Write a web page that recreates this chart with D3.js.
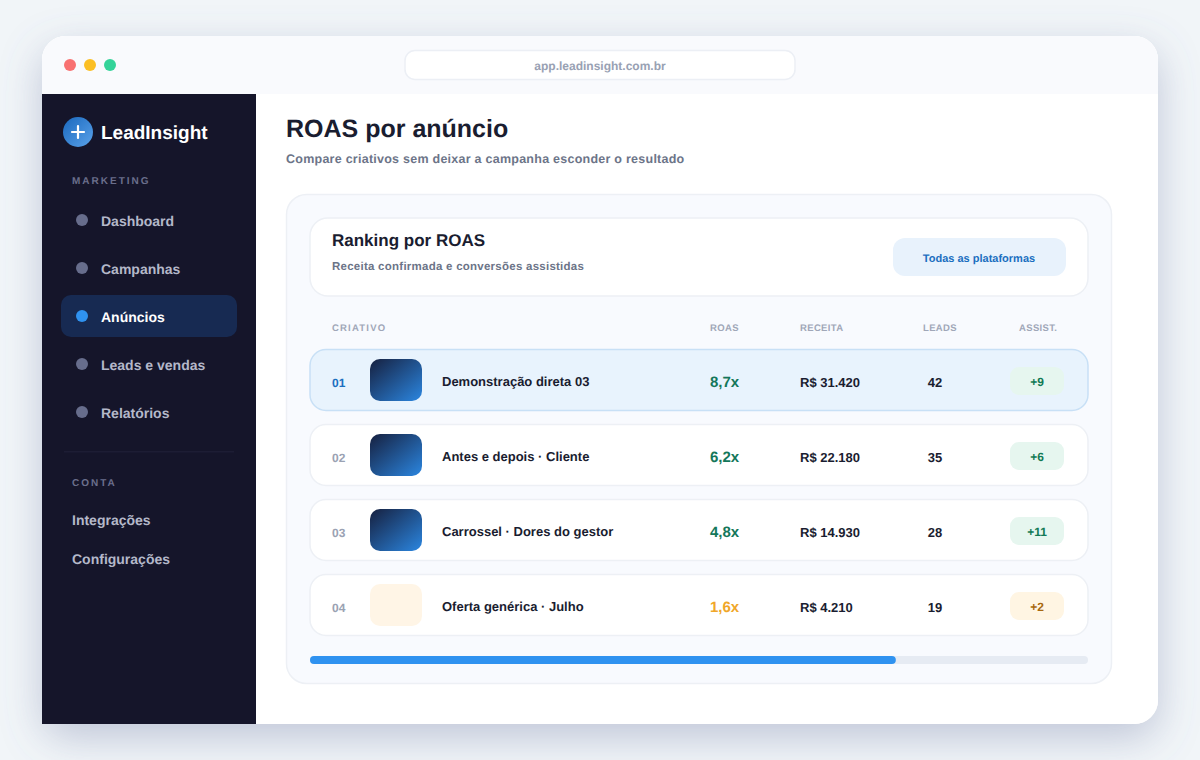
<![CDATA[<!DOCTYPE html>
<html lang="pt-BR"><head><meta charset="utf-8">
<script src="https://cdn.jsdelivr.net/npm/d3@7/dist/d3.min.js"></script>
<style>html,body{margin:0;padding:0;background:#f1f5f8;overflow:hidden}svg{display:block}text{font-family:"Liberation Sans",Arial,sans-serif;font-weight:700;text-rendering:geometricPrecision}</style>
</head><body><svg id="c" width="1200" height="760" viewBox="0 0 1200 760"></svg>
<script>
const navItems=["Dashboard","Campanhas","Anúncios","Leads e vendas","Relatórios"];
const activeNav="Anúncios";
const accountItems=["Integrações","Configurações"];
const ranks=["01","02","03","04"];
const creatives=["Demonstração direta 03","Antes e depois · Cliente","Carrossel · Dores do gestor","Oferta genérica · Julho"];
const roasValues=[8.7,6.2,4.8,1.6];
const revenueValues=[31420,22180,14930,4210];
const leadValues=[42,35,28,19];
const assistValues=[9,6,11,2];
const columnHeads=["CRIATIVO","ROAS","RECEITA","LEADS","ASSIST."];
const progressShare=0.753;

const svg=d3.select("#c");
const defs=svg.append("defs");
const sh=defs.append("filter").attr("id","sh").attr("filterUnits","userSpaceOnUse").attr("x",0).attr("y",0).attr("width",1200).attr("height",760);
sh.append("feDropShadow").attr("dx",0).attr("dy",14).attr("stdDeviation",20).attr("flood-color","#6a72a0").attr("flood-opacity",0.36);
function grad(id,a,b){const g=defs.append("linearGradient").attr("id",id).attr("x1",0).attr("y1",0).attr("x2",1).attr("y2",1);
 g.append("stop").attr("offset",0).attr("stop-color",a);g.append("stop").attr("offset",1).attr("stop-color",b);}
grad("thumb","#16203f","#2b86e0");grad("logo","#1a68bd","#5aa2ea");
const clip=defs.append("clipPath").attr("id","win");clip.append("rect").attr("x",42).attr("y",36).attr("width",1116).attr("height",688).attr("rx",24);

function rr(p,x,y,w,h,r,fill,stroke){const e=p.append("rect").attr("x",x).attr("y",y).attr("width",w).attr("height",h).attr("rx",r).attr("fill",fill);
 if(stroke)e.attr("stroke",stroke).attr("stroke-width",1.5);return e;}
function tx(p,x,y,s,size,fill,o={}){return p.append("text").attr("x",x).attr("y",y).attr("font-size",size).attr("fill",fill)
 .attr("text-anchor",o.a||"start").attr("letter-spacing",o.ls||0).text(s);}

rr(svg,42,36,1116,688,24,"#fff").attr("filter","url(#sh)");
const win=svg.append("g").attr("clip-path","url(#win)");
win.append("rect").attr("x",42).attr("y",36).attr("width",1116).attr("height",688).attr("fill","#fff");
win.append("rect").attr("x",42).attr("y",36).attr("width",1116).attr("height",58).attr("fill","#f9fafd");
win.selectAll("circle.dot").data(["#f87171","#fbbf24","#34d399"]).join("circle").attr("class","dot")
 .attr("cx",(d,i)=>70+20*i).attr("cy",65).attr("r",6).attr("fill",d=>d);
rr(win,405,50.5,390,29,10,"#fff","#eceff5");
tx(win,600,70,"app.leadinsight.com.br",12,"#98a1b3",{a:"middle"});

// sidebar (square bottom-left corner, drawn outside the window clip)
const side=svg.append("g");
side.append("rect").attr("x",42).attr("y",94).attr("width",214).attr("height",630).attr("fill","#15152a");
side.append("circle").attr("cx",78).attr("cy",132).attr("r",15).attr("fill","url(#logo)");
side.append("path").attr("d","M78 126V138M72 132H84").attr("stroke","#fff").attr("stroke-width",2.2).attr("stroke-linecap","round");
tx(side,101,139,"LeadInsight",19,"#fff");
tx(side,72,184,"MARKETING",10,"#6b6f8c",{ls:2});
const navY=d3.scalePoint().domain(navItems).range([221,413]);
rr(side,61,295,176,42,10,"#172a52");
navItems.forEach(n=>{const a=n===activeNav,y=navY(n);
 side.append("circle").attr("cx",82).attr("cy",y-1).attr("r",6).attr("fill",a?"#2f92f0":"#676d8c");
 tx(side,101,y+5,n,14,a?"#fff":"#b4b8c9");});
side.append("rect").attr("x",64).attr("y",451).attr("width",170).attr("height",1.5).attr("fill","#1d1d34");
tx(side,72,486,"CONTA",10,"#6b6f8c",{ls:2});
const acctY=d3.scalePoint().domain(accountItems).range([525,564]);
accountItems.forEach(n=>tx(side,72,acctY(n),n,14,"#b4b8c9"));

// header
tx(win,286,137,"ROAS por anúncio",25,"#1a1d30");
tx(win,286,163,"Compare criativos sem deixar a campanha esconder o resultado",12.5,"#6c7488",{ls:.25});

// panel
rr(win,286.5,194.5,825,489,20,"#f8fafe","#edf0f5");
rr(win,310,218,778,78,18,"#fff","#edf0f5");
tx(win,332,246,"Ranking por ROAS",17,"#1a1d30");
tx(win,332,270,"Receita confirmada e conversões assistidas",11.5,"#6c7488",{ls:.25});
rr(win,893,238,173,38,12,"#e8f2fc");
tx(win,979,262,"Todas as plataformas",11,"#1b6fc0",{a:"middle"});

// table heads
const headX=[332,710,800,923,1019];
columnHeads.forEach((h,i)=>tx(win,headX[i],331,h,9.5,"#a0a7b8",{ls:i==0?1.2:.35}));

const rowY=d3.scaleBand().domain(ranks).range([349,636]).paddingInner(13/75).paddingOuter(0);
const fmt=v=>"R$ "+d3.format(",")(v).replace(/,/g,".");
const lowRoas=v=>v<2;
const rows=win.selectAll("g.row").data(ranks).join("g").attr("class","row").attr("transform",d=>`translate(0,${rowY(d)})`);
rows.each(function(d,i){const g=d3.select(this),first=i===0,low=lowRoas(roasValues[i]);
 rr(g,310,0.5,778,61,16,first?"#e8f3fd":"#fff",first?"#c8e0f6":"#edf0f5");
 tx(g,332,38,d,12,first?"#1b6fc0":"#9aa2b3",{ls:.2});
 rr(g,370,10,52,42,10,low?"#fff5e6":"url(#thumb)");
 tx(g,442,37,creatives[i],13,"#1a1d30");
 tx(g,710,38,d3.format(".1f")(roasValues[i]).replace(".",",")+"x",15,low?"#f0a72a":"#14775a");
 tx(g,800,38,fmt(revenueValues[i]),13,"#1a1d30");
 tx(g,935,38,leadValues[i],13,"#1a1d30",{a:"middle"});
 rr(g,1010,18,54,28,9,low?"#fff5e3":"#e6f6ef");
 tx(g,1037,36.5,"+"+assistValues[i],12,low?"#a8680f":"#127a55",{a:"middle"});
});

// progress
const px=d3.scaleLinear().domain([0,1]).range([310,1088]);
rr(win,px(0),656,px(1)-px(0),8,4,"#e6ebf3");
rr(win,px(0),656,px(progressShare)-px(0),8,4,"#2f92f0");
</script></body></html>]]>
